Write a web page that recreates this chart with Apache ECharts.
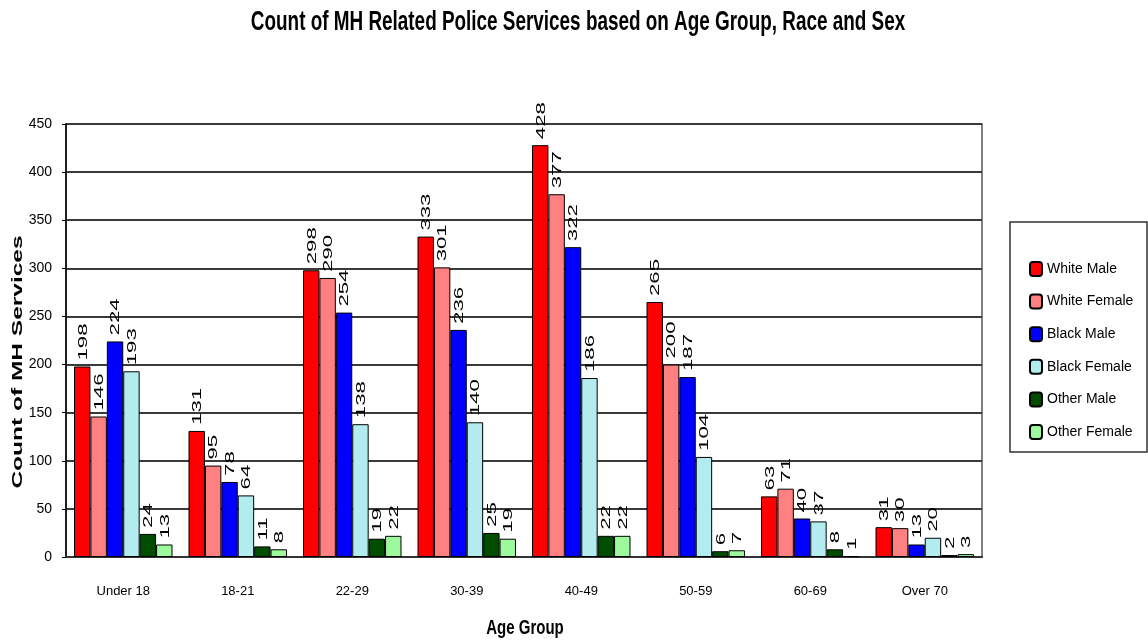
<!DOCTYPE html>
<html>
<head>
<meta charset="utf-8">
<script src="https://cdn.jsdelivr.net/npm/echarts@6/dist/echarts.min.js"></script>
<style>
  html, body { margin: 0; padding: 0; background: #fff; }
  #chart { width: 1148px; height: 642px; }
</style>
</head>
<body>
<div id="chart"></div>
<script>
// Age groups along the x axis
const ageGroups = ['Under 18', '18-21', '22-29', '30-39', '40-49', '50-59', '60-69', 'Over 70'];

// Counts per race/sex group, one value per age group
const whiteMale    = [198, 131, 298, 333, 428, 265, 63, 31];
const whiteFemale  = [146, 95, 290, 301, 377, 200, 71, 30];
const blackMale    = [224, 78, 254, 236, 322, 187, 40, 13];
const blackFemale  = [193, 64, 138, 140, 186, 104, 37, 20];
const otherMale    = [24, 11, 19, 25, 22, 6, 8, 2];
const otherFemale  = [13, 8, 22, 19, 22, 7, 1, 3];

const seriesNames  = ['White Male', 'White Female', 'Black Male', 'Black Female', 'Other Male', 'Other Female'];
const seriesData   = [whiteMale, whiteFemale, blackMale, blackFemale, otherMale, otherFemale];
const seriesColors = ['#ff0000', '#ff8080', '#0000ff', '#b2ecee', '#004c00', '#9cf99c'];

const font = "'Liberation Sans', Arial, sans-serif";
const CATEGORY_GAP = 0.14;

const chart = echarts.init(document.getElementById('chart'));

// Bars, one series per race/sex group, touching within each age group
const barSeries = seriesNames.map((name, i) => ({
  name: name,
  type: 'bar',
  data: seriesData[i],
  barGap: '0%',
  barCategoryGap: (CATEGORY_GAP * 100) + '%',
  itemStyle: { color: seriesColors[i], borderColor: '#000', borderWidth: 1 }
}));

// Value labels above each bar, rotated to read upwards and stretched along the text
const labelSeries = seriesNames.map((name, i) => ({
  type: 'custom',
  silent: true,
  z: 5,
  data: seriesData[i].map((v, k) => [k, v]),
  encode: { x: 0, y: 1 },
  renderItem: (params, api) => {
    const k = api.value(0);
    const v = api.value(1);
    const pt = api.coord([k, v]);
    const band = api.size([1, 0])[0];
    const groupW = band * (1 - CATEGORY_GAP);
    const barW = groupW / seriesNames.length;
    const x = pt[0] - groupW / 2 + (i + 0.5) * barW + 1;
    return {
      type: 'text',
      x: x,
      y: pt[1] - 6,
      rotation: Math.PI / 2,
      scaleX: 1.85,
      style: {
        text: String(v),
        align: 'left',
        verticalAlign: 'middle',
        font: "12px 'Liberation Sans', Arial, sans-serif",
        fill: '#000'
      }
    };
  }
}));

chart.setOption({
  animation: false,
  backgroundColor: '#fff',
  grid: {
    left: 66, right: 166, top: 124, bottom: 85,
    show: true, borderColor: '#555', borderWidth: 1.5, backgroundColor: '#fff'
  },
  legend: {
    orient: 'vertical',
    left: 1024,
    top: 256,
    itemWidth: 12,
    itemHeight: 14,
    itemGap: 16.6,
    textStyle: { fontFamily: font, fontSize: 14, color: '#000' },
    data: seriesNames
  },
  xAxis: {
    type: 'category',
    data: ageGroups,
    axisLine: { lineStyle: { color: '#333', width: 2 } },
    axisTick: { show: false },
    axisLabel: { margin: 28, fontFamily: font, fontSize: 13, color: '#000' }
  },
  yAxis: {
    type: 'value',
    min: 0,
    max: 450,
    interval: 50,
    axisLine: { show: true, lineStyle: { color: '#000', width: 1.5 } },
    axisTick: { show: true, length: 4, lineStyle: { color: '#000' } },
    axisLabel: { margin: 14, fontFamily: font, fontSize: 14, color: '#000' },
    splitLine: { lineStyle: { color: '#3a3a3a', width: 2 } }
  },
  graphic: [
    {
      type: 'text',
      x: 578,
      y: 23,
      scaleX: 0.7,
      style: {
        text: 'Count of MH Related Police Services based on Age Group, Race and Sex',
        align: 'center',
        verticalAlign: 'middle',
        font: "bold 27px 'Liberation Sans', Arial, sans-serif",
        fill: '#000'
      }
    },
    {
      type: 'text',
      x: 525,
      y: 628,
      scaleX: 0.75,
      style: {
        text: 'Age Group',
        align: 'center',
        verticalAlign: 'middle',
        font: "bold 20px 'Liberation Sans', Arial, sans-serif",
        fill: '#000'
      }
    },
    {
      type: 'rect',
      shape: { x: 1010, y: 222, width: 137, height: 230 },
      style: { fill: 'none', stroke: '#333', lineWidth: 1.5 },
      z: 0
    },
    {
      type: 'text',
      x: 18,
      y: 362,
      rotation: Math.PI / 2,
      scaleX: 1.75,
      style: {
        text: 'Count of MH Services',
        align: 'center',
        verticalAlign: 'middle',
        font: "bold 14px 'Liberation Sans', Arial, sans-serif",
        fill: '#000'
      }
    }
  ],
  series: barSeries.concat(labelSeries)
});
</script>
</body>
</html>
